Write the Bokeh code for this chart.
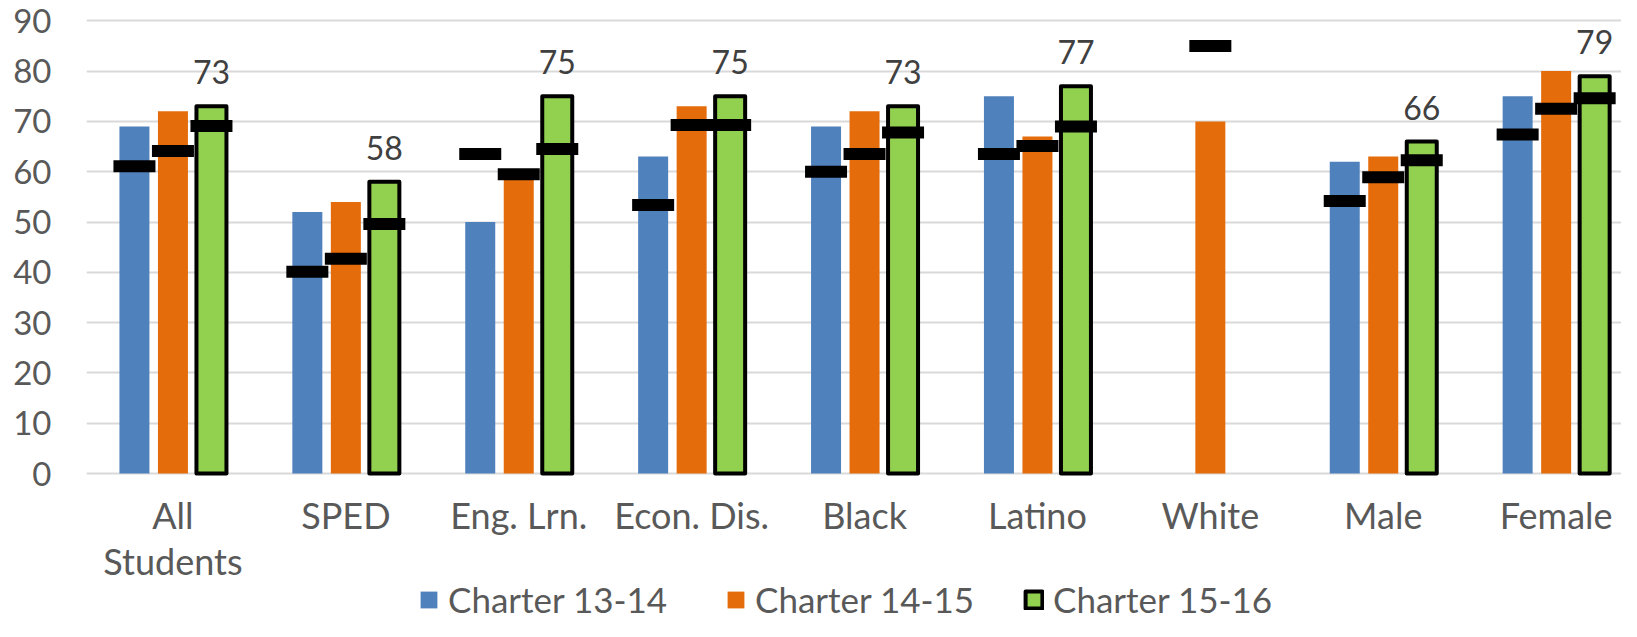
import numpy as np
from bokeh.plotting import figure
from bokeh.models import ColumnDataSource, Range1d, FixedTicker, Legend, LegendItem
from bokeh.transform import dodge
from bokeh.core.properties import value
from bokeh.embed import file_html
from bokeh.resources import INLINE

nan = float("nan")

# ---- data ----
categories = ["All Students", "SPED", "Eng. Lrn.", "Econ. Dis.", "Black",
              "Latino", "White", "Male", "Female"]
tick_labels = ["All\nStudents", "SPED", "Eng. Lrn.", "Econ. Dis.", "Black",
               "Latino", "White", "Male", "Female"]
series_names = ["Charter 13-14", "Charter 14-15", "Charter 15-16"]

charter_13_14 = [69, 52, 50, 63, 69, 75, nan, 62, 75]
charter_14_15 = [72, 54, 59, 73, 72, 67, 70, 63, 80]
charter_15_16 = [73, 58, 75, 75, 73, 77, nan, 66, 79]

compare_13_14 = [61.1, 40.1, 63.5, 53.4, 60.0, 63.5, nan, 54.2, 67.4]
compare_14_15 = [64.1, 42.7, 59.5, 69.3, 63.5, 65.1, 85.0, 58.9, 72.5]
compare_15_16 = [69.1, 49.6, 64.5, 69.3, 67.8, 69.0, nan, 62.3, 74.6]

y_ticks = [0, 10, 20, 30, 40, 50, 60, 70, 80, 90]

# ---- styles ----
BLUE = "#4F81BD"
ORANGE = "#E46C0A"
GREEN = "#92D050"
FONT = "Lato"
OFF = 0.2227
BAR_W = 0.1735

xc = np.arange(len(categories)) + 0.5
labels_15_16 = ["" if np.isnan(v) else str(int(v)) for v in charter_15_16]

src = ColumnDataSource(dict(
    x=xc, cat=categories, tick=tick_labels, zero=[0] * len(categories),
    v1=charter_13_14, v2=charter_14_15, v3=charter_15_16,
    c1=compare_13_14, c2=compare_14_15, c3=compare_15_16,
    lab=labels_15_16,
))

p = figure(width=1621, height=621, output_backend="svg", toolbar_location=None,
           x_range=Range1d(0, 8.878), y_range=Range1d(-29.42, 90.457),
           min_border_left=86, min_border_right=0, min_border_top=18,
           min_border_bottom=0)
p.outline_line_color = None
p.background_fill_color = "white"
p.border_fill_color = "white"

r1 = p.vbar(x=dodge("x", -OFF), top="v1", bottom=0, width=BAR_W, source=src,
            fill_color=BLUE, line_color=None)
r2 = p.vbar(x=dodge("x", 0), top="v2", bottom=0, width=BAR_W, source=src,
            fill_color=ORANGE, line_color=None)
r3 = p.vbar(x=dodge("x", OFF), top="v3", bottom=0, width=BAR_W, source=src,
            fill_color=GREEN, line_color="black", line_width=4,
            line_join="round")

for col, off in (("c1", -OFF), ("c2", 0), ("c3", OFF)):
    p.rect(x=dodge("x", off), y=col, width=42, height=12,
           width_units="screen", height_units="screen", source=src,
           fill_color="black", line_color=None)

# data labels on the 15-16 bars
p.text(x=dodge("x", OFF), y="v3", text="lab", source=src,
       text_align="center", text_baseline="alphabetic", y_offset=-34,
       text_font=value(FONT), text_font_size="32px", text_color="#404040")

# category labels (below the zero line)
p.text(x="x", y="zero", text="tick", source=src,
       text_align="center", text_baseline="top", y_offset=19,
       text_line_height=1.06,
       text_font=value(FONT), text_font_size="36px", text_color="#595959")

# axes
p.xaxis.visible = False

p.yaxis.ticker = FixedTicker(ticks=y_ticks)
p.yaxis.axis_line_color = None
p.yaxis.major_tick_line_color = None
p.yaxis.minor_tick_line_color = None
p.yaxis.major_tick_out = 0
p.yaxis.major_tick_in = 0
p.yaxis.major_label_standoff = 35
p.yaxis.major_label_text_font = FONT
p.yaxis.major_label_text_font_size = "33px"
p.yaxis.major_label_text_color = "#595959"

p.xgrid.grid_line_color = None
p.ygrid.ticker = FixedTicker(ticks=y_ticks)
p.ygrid.grid_line_color = "#D9D9D9"
p.ygrid.grid_line_width = 1.8

# legends (one per item for exact placement)
leg_x = [332, 639, 937]
for name, r, lx in zip(series_names, (r1, r2, r3), leg_x):
    leg = Legend(items=[LegendItem(label=name, renderers=[r])],
                 location=(lx, 1), orientation="horizontal",
                 glyph_width=21, glyph_height=21, label_standoff=9,
                 padding=0, margin=0, spacing=0,
                 border_line_color=None, background_fill_alpha=0,
                 label_text_font=FONT, label_text_font_size="35px",
                 label_text_color="#595959")
    p.add_layout(leg)

open("out.html", "w").write(file_html(p, INLINE))
